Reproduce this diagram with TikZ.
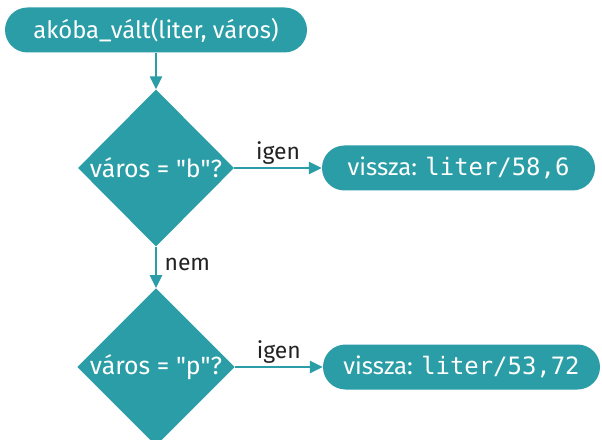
\documentclass[tikz,border=0pt]{standalone}
\usepackage{fontspec}
\setmainfont{Fira Sans}
\setmonofont{DejaVu Sans Mono}
\usetikzlibrary{shapes.geometric,arrows.meta,positioning}
\definecolor{flowteal}{HTML}{2A9DA6}
\definecolor{labelgray}{HTML}{222222}

\begin{document}
\begin{tikzpicture}[x=1bp,y=-1bp,
    pill/.style={draw=none,fill=flowteal,text=white,rounded corners=22.5bp,minimum height=45bp,inner sep=0pt,font=\fontsize{24}{28}\selectfont},
    decision/.style={diamond,aspect=1,fill=flowteal,text=white,inner sep=0pt,minimum width=156bp,minimum height=157bp,font=\fontsize{25}{29}\selectfont},
    flow/.style={draw=flowteal,line width=2.5bp,-{Triangle[length=13bp,width=12bp]}},
    answer/.style={text=labelgray,font=\fontsize{23}{27}\selectfont}]
    \useasboundingbox (0,0) rectangle (602,440);
    \node[pill,minimum width=302bp] (start) at (156,30) {akóba\_vált(liter, város)};
    \node[decision] (isb) at (156,168) {város = \textquotedbl b\textquotedbl?};
    \node[pill,minimum width=273bp] (retb) at (458.5,168) {vissza: \texttt{liter/58,6}};
    \node[decision] (isp) at (156,367) {város = \textquotedbl p\textquotedbl?};
    \node[pill,minimum width=277bp] (retp) at (461.5,367) {vissza: \texttt{liter/53,72}};
    \draw[flow] (start) -- (isb);
    \draw[flow] (isb) -- node[answer,above,inner sep=2bp] {igen} (retb);
    \draw[flow] (isb) -- node[answer,right,xshift=4bp,yshift=3bp] {nem} (isp);
    \draw[flow] (isp) -- node[answer,above,inner sep=2bp] {igen} (retp);
\end{tikzpicture}
\end{document}
